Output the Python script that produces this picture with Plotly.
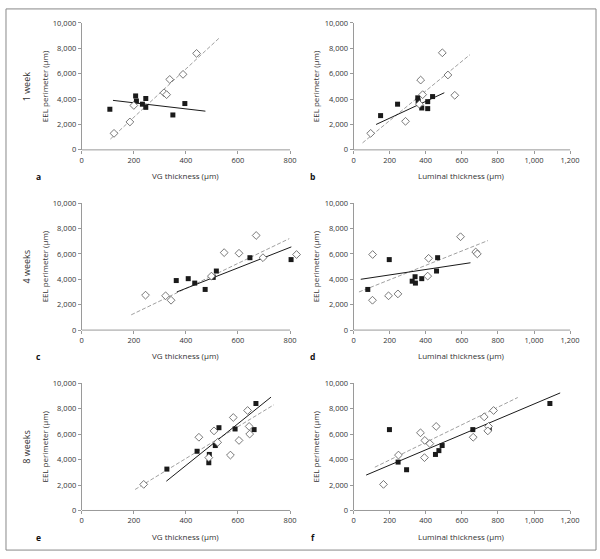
import plotly.graph_objects as go

# ---------------- data ----------------
# Panel a: 1 week, VG thickness
a_sq_x = [108, 207, 210, 233, 246, 246, 350, 396]
a_sq_y = [3200, 4250, 3850, 3600, 4050, 3350, 2750, 3650]
a_dm_x = [124, 185, 200, 316, 326, 338, 389, 441]
a_dm_y = [1300, 2200, 3500, 4500, 4350, 5550, 5950, 7600]
a_solid_x = [120, 475]
a_solid_y = [3900, 3050]
a_dash_x = [110, 530]
a_dash_y = [850, 8850]

# Panel b: 1 week, luminal thickness
b_sq_x = [150, 244, 356, 358, 378, 411, 411, 438]
b_sq_y = [2700, 3600, 4100, 3850, 3300, 3800, 3250, 4200]
b_dm_x = [95, 288, 365, 372, 383, 492, 523, 561]
b_dm_y = [1300, 2250, 3600, 5500, 4350, 7650, 5900, 4300]
b_solid_x = [125, 503]
b_solid_y = [2000, 4500]
b_dash_x = [50, 645]
b_dash_y = [550, 7500]

# Panel c: 4 weeks, VG thickness
c_sq_x = [363, 409, 434, 474, 505, 517, 646, 804]
c_sq_y = [3900, 4050, 3700, 3200, 4150, 4650, 5700, 5550]
c_dm_x = [245, 322, 343, 498, 547, 604, 670, 696, 825]
c_dm_y = [2750, 2700, 2350, 4250, 6100, 6050, 7450, 5700, 5950]
c_solid_x = [365, 805]
c_solid_y = [3000, 6550]
c_dash_x = [190, 797]
c_dash_y = [1200, 7200]

# Panel d: 4 weeks, luminal thickness
d_sq_x = [79, 198, 325, 341, 343, 378, 460, 466]
d_sq_y = [3200, 5550, 3850, 4200, 3700, 4050, 4650, 5700]
d_dm_x = [106, 105, 194, 246, 411, 416, 593, 677, 686]
d_dm_y = [5950, 2350, 2700, 2850, 4250, 5650, 7350, 6150, 6000]
d_solid_x = [40, 648]
d_solid_y = [4000, 5300]
d_dash_x = [30, 745]
d_dash_y = [3000, 7050]

# Panel e: 8 weeks, VG thickness
e_sq_x = [327, 443, 490, 488, 513, 527, 589, 662, 669]
e_sq_y = [3250, 4650, 4400, 3750, 5100, 6500, 6400, 6350, 8400]
e_dm_x = [238, 450, 488, 508, 522, 571, 582, 604, 637, 643, 645]
e_dm_y = [2050, 5750, 4150, 6250, 5350, 4350, 7300, 5500, 7850, 6600, 6000]
e_solid_x = [325, 727]
e_solid_y = [2300, 8900]
e_dash_x = [205, 738]
e_dash_y = [1650, 8300]

# Panel f: 8 weeks, luminal thickness
f_sq_x = [199, 247, 294, 454, 473, 491, 661, 752, 1088]
f_sq_y = [6350, 3800, 3200, 4400, 4700, 5100, 6350, 6450, 8400]
f_dm_x = [166, 249, 371, 395, 393, 423, 458, 663, 724, 748, 744, 776]
f_dm_y = [2050, 4350, 6100, 5500, 4150, 5250, 6600, 5750, 7350, 6600, 6250, 7850]
f_solid_x = [70, 1145]
f_solid_y = [2780, 9230]
f_dash_x = [118, 910]
f_dash_y = [3400, 8870]

panel_letters = ["a", "b", "c", "d", "e", "f"]
row_labels = ["1 week", "4 weeks", "8 weeks"]
x_titles = ["VG thickness (µm)", "Luminal thickness (µm)"]
y_title = "EEL perimeter (µm)"
x_ranges = [[0, 800], [0, 1200]]
y_range = [0, 10000]

panels = [
    (a_sq_x, a_sq_y, a_dm_x, a_dm_y, a_solid_x, a_solid_y, a_dash_x, a_dash_y),
    (b_sq_x, b_sq_y, b_dm_x, b_dm_y, b_solid_x, b_solid_y, b_dash_x, b_dash_y),
    (c_sq_x, c_sq_y, c_dm_x, c_dm_y, c_solid_x, c_solid_y, c_dash_x, c_dash_y),
    (d_sq_x, d_sq_y, d_dm_x, d_dm_y, d_solid_x, d_solid_y, d_dash_x, d_dash_y),
    (e_sq_x, e_sq_y, e_dm_x, e_dm_y, e_solid_x, e_solid_y, e_dash_x, e_dash_y),
    (f_sq_x, f_sq_y, f_dm_x, f_dm_y, f_solid_x, f_solid_y, f_dash_x, f_dash_y),
]

# ---------------- layout geometry ----------------
W, H = 600, 559
FONT = "Open Sans"
AXIS_COL = "#9a9a9a"
TXT_COL = "#333333"
EXT = 1.06  # plot area extends a bit past the last tick so edge points stay visible

col_px = [(80, 289), (352.7, 570)]
row_px = [(18.3, 147.5), (201.7, 331), (385, 514.7)]

fig = go.Figure()
layout = dict(
    width=W, height=H,
    margin=dict(l=0, r=0, t=0, b=0),
    paper_bgcolor="white", plot_bgcolor="white",
    showlegend=False,
    font=dict(family=FONT, size=8, color=TXT_COL),
)
annotations = []
shapes = []

for i, (sx, sy, dx, dy, lx, ly, kx, ky) in enumerate(panels):
    r, c = divmod(i, 2)
    n = i + 1
    xa = "x" if n == 1 else f"x{n}"
    ya = "y" if n == 1 else f"y{n}"
    x0p, x1p = col_px[c]
    y0p, y1p = row_px[r]
    xr = x_ranges[c]
    x1ext = x0p + (x1p - x0p) * EXT
    xdom = [x0p / W, x1ext / W]
    ydom = [1 - y1p / H, 1 - y0p / H]
    tickvals = list(range(0, xr[1] + 1, 200))
    # x-axis title centered under the visible axis line
    annotations.append(dict(text=x_titles[c], xref="paper", yref="paper",
                            x=(x0p + x1p) / 2 / W, y=1 - (y1p + 26) / H,
                            showarrow=False, xanchor="center", yanchor="middle",
                            font=dict(family=FONT, size=8, color=TXT_COL)))
    layout["xaxis" if n == 1 else f"xaxis{n}"] = dict(
        domain=xdom, range=[xr[0], xr[1] * EXT], anchor=ya, showgrid=False, zeroline=False,
        showline=False,
        ticks="outside", ticklen=3, tickcolor=AXIS_COL, tickwidth=1,
        tickvals=tickvals, tickformat=",d",
        tickfont=dict(family=FONT, size=7.5, color=TXT_COL),
        fixedrange=True,
    )
    layout["yaxis" if n == 1 else f"yaxis{n}"] = dict(
        domain=ydom, range=y_range, anchor=xa, showgrid=False, zeroline=False,
        showline=True, linecolor=AXIS_COL, linewidth=1,
        ticks="outside", ticklen=3, tickcolor=AXIS_COL, tickwidth=1,
        tickvals=list(range(0, 10001, 2000)), tickformat=",d",
        tickfont=dict(family=FONT, size=7.5, color=TXT_COL),
        title=dict(text=y_title, font=dict(family=FONT, size=8, color=TXT_COL), standoff=3),
        fixedrange=True,
    )
    # x-axis line from 0 to the last tick
    shapes.append(dict(type="line", xref=xa, yref=f"{ya} domain", x0=xr[0], x1=xr[1],
                       y0=0, y1=0, layer="below", line=dict(color=AXIS_COL, width=1)))
    # regression lines
    fig.add_trace(go.Scatter(x=kx, y=ky, mode="lines", xaxis=xa, yaxis=ya,
                             line=dict(color="#a0a0a0", width=1, dash="4px,2px")))
    fig.add_trace(go.Scatter(x=lx, y=ly, mode="lines", xaxis=xa, yaxis=ya,
                             line=dict(color="#1a1a1a", width=1)))
    # filled squares
    fig.add_trace(go.Scatter(x=sx, y=sy, mode="markers", xaxis=xa, yaxis=ya, cliponaxis=False,
                             marker=dict(symbol="square", size=5, color="#1a1a1a",
                                         line=dict(width=0))))
    # open diamonds
    fig.add_trace(go.Scatter(x=dx, y=dy, mode="markers", xaxis=xa, yaxis=ya, cliponaxis=False,
                             marker=dict(symbol="diamond", size=6, color="white",
                                         line=dict(color="#555555", width=0.8))))
    # panel letter
    annotations.append(dict(text=f"<b>{panel_letters[i]}</b>", xref="paper", yref="paper",
                            x=(37 if c == 0 else 312) / W, y=1 - (y1p + 27) / H,
                            showarrow=False, xanchor="center", yanchor="middle",
                            font=dict(family=FONT, size=8.5, color="#111111")))

for r, lab in enumerate(row_labels):
    y0p, y1p = row_px[r]
    annotations.append(dict(text=lab, xref="paper", yref="paper",
                            x=25 / W, y=1 - (y0p + y1p) / 2 / H, textangle=-90,
                            showarrow=False, xanchor="center", yanchor="middle",
                            font=dict(family=FONT, size=9, color=TXT_COL)))

shapes.append(dict(type="rect", xref="paper", yref="paper",
                   x0=4 / W, x1=596 / W, y0=1 - 555 / H, y1=1 - 4 / H,
                   line=dict(color="#888888", width=1)))
layout["annotations"] = annotations
layout["shapes"] = shapes
fig.update_layout(**layout)
fig.write_html("out.html",
               config={"displayModeBar": False, "staticPlot": True},
               post_script="document.body.style.margin='0';document.body.style.overflow='hidden';")
